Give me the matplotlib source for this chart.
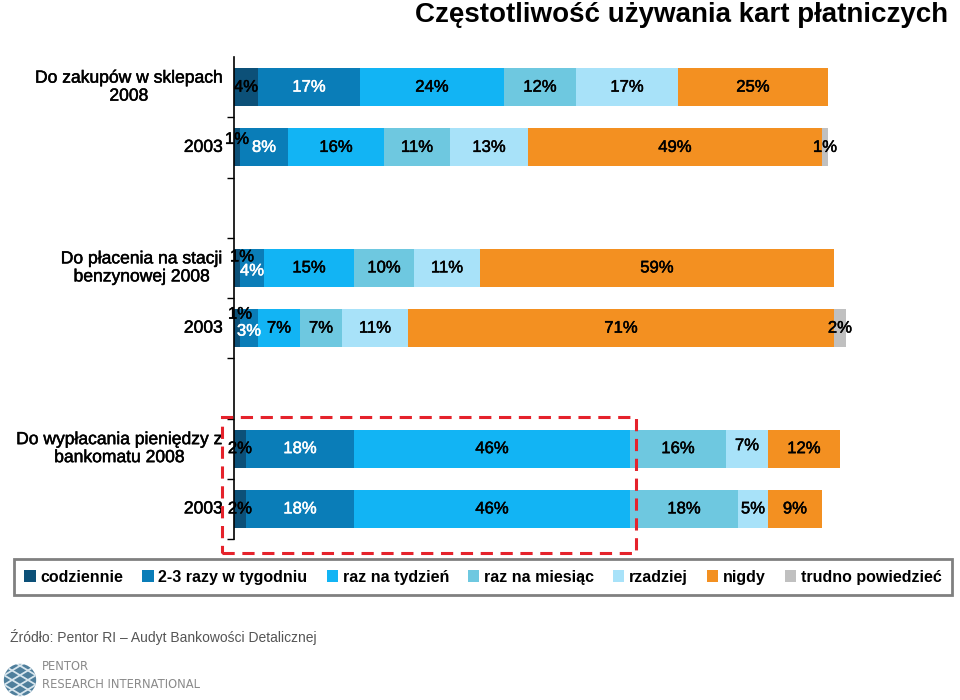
import numpy as np
import matplotlib.pyplot as plt
import matplotlib.patheffects as pe
from matplotlib.patches import Patch, Rectangle, Circle

plt.rcParams['font.family'] = ['Liberation Sans', 'DejaVu Sans']

# dane
kategorie = ["codziennie", "2-3 razy w tygodniu", "raz na tydzień", "raz na miesiąc",
             "rzadziej", "nigdy", "trudno powiedzieć"]
kolory = ["#0C5078", "#0A7DB8", "#12B4F4", "#6EC8E0", "#A8E2F9", "#F39021", "#C0C0C0"]

wiersze = ["Do zakupów w sklepach\n2008", "2003",
           "Do płacenia na stacji\nbenzynowej 2008", "2003",
           "Do wypłacania pieniędzy z\nbankomatu 2008", "2003"]
pozycje = [0, 1, 3, 4, 6, 7]

codziennie = [4, 1, 1, 1, 2, 2]
razy_2_3 = [17, 8, 4, 3, 18, 18]
tydzien = [24, 16, 15, 7, 46, 46]
miesiac = [12, 11, 10, 7, 16, 18]
rzadziej = [17, 13, 11, 11, 7, 5]
nigdy = [25, 49, 59, 71, 12, 9]
trudno = [0, 1, 0, 2, 0, 0]

serie = [codziennie, razy_2_3, tydzien, miesiac, rzadziej, nigdy, trudno]

# przesuniecia etykiet malych segmentow (piksele): (wiersz, seria) -> (dx, dy)
przesuniecia = {(1, 0): (0, 8), (2, 0): (5, 11), (2, 1): (0, -3),
                (3, 0): (3, 14), (3, 1): (0, -3), (4, 4): (0, 3)}

def grubo(kolor):
    return [pe.withStroke(linewidth=0.35, foreground=kolor)]

fig = plt.figure(figsize=(9.6, 7), dpi=100)
W, H = 960, 700
ax = fig.add_axes([234 / W, 1 - 539 / H, 630 / W, (539 - 57) / H])

lewy = np.zeros(len(pozycje))
for j, (nazwa, wart, kol) in enumerate(zip(kategorie, serie, kolory)):
    wart = np.array(wart, dtype=float)
    ax.barh(pozycje, wart, left=lewy, height=0.63, color=kol, label=nazwa)
    for i, v in enumerate(wart):
        if v <= 0:
            continue
        dx, dy = przesuniecia.get((i, j), (0, 0))
        kol_txt = 'white' if j == 1 else 'black'
        ax.annotate(f"{int(v)}%", (lewy[i] + v / 2, pozycje[i]),
                    xytext=(dx, dy), textcoords='offset pixels',
                    ha='center', va='center', fontsize=12,
                    color=kol_txt, path_effects=grubo(kol_txt))
    lewy += wart

ax.set_xlim(0, 105)
ax.set_ylim(7.5, -0.5)
ax.set_xticks([])
ax.set_yticks(np.arange(0.5, 8, 1))
ax.set_yticklabels([])
ax.tick_params(axis='y', direction='out', length=5, width=1)
for s in ['top', 'right', 'bottom']:
    ax.spines[s].set_visible(False)
ax.spines['left'].set_linewidth(1.2)

for txt, p in zip(wiersze, pozycje):
    ax.text(-11.5 / 6, p, txt, ha='right', va='center', multialignment='center',
            fontsize=12.6, linespacing=1.25, path_effects=grubo('black'))

fig.text(948 / W, 1 - 22 / H, "Częstotliwość używania kart płatniczych",
         ha='right', va='baseline', fontsize=20, fontweight='bold')

# czerwona ramka
fig.patches.append(Rectangle((222 / W, 1 - 553 / H), (636 - 222) / W, (553 - 417) / H,
                             transform=fig.transFigure, fill=False,
                             edgecolor='#E5222B', linewidth=2.2,
                             linestyle=(0, (4, 2.5)), zorder=5))

uchwyty = [Patch(facecolor=k, edgecolor='none') for k in kolory]
leg = fig.legend(uchwyty, kategorie, ncol=7, loc='lower left',
                 bbox_to_anchor=(14 / W, 1 - 595 / H, 938 / W, 35 / H), mode='expand',
                 frameon=True, fancybox=False, handlelength=0.7, handleheight=0.7,
                 handletextpad=0.3, columnspacing=1.0, borderaxespad=0, borderpad=0.65,
                 prop={'weight': 'bold', 'size': 11.5})
leg.get_frame().set_edgecolor('#606060')
leg.get_frame().set_linewidth(2)

fig.text(10 / W, 1 - 637 / H, "Źródło: Pentor RI – Audyt Bankowości Detalicznej",
         ha='left', va='center', fontsize=10, color='#555555')

# logo
lax = fig.add_axes([3 / W, 1 - 697 / H, 34 / W, 34 / H])
lax.set_xlim(-1, 1)
lax.set_ylim(-1, 1)
lax.axis('off')
kolo = Circle((0, 0), 0.95, facecolor='#4F7F9C', edgecolor='none')
lax.add_patch(kolo)
for t in np.linspace(-1.4, 1.4, 6):
    for l in (lax.plot([-1, 1], [t - 0.6, t + 0.6], color='#D8E6EE', lw=1.3),
              lax.plot([-1, 1], [t + 0.6, t - 0.6], color='#D8E6EE', lw=1.3)):
        l[0].set_clip_path(kolo)
fig.text(42 / W, 1 - 667 / H, "PENTOR", fontsize=8.3, color='#8A8A8A', va='center',
         family='DejaVu Sans')
fig.text(42 / W, 1 - 684 / H, "RESEARCH INTERNATIONAL", fontsize=8.3, color='#8A8A8A',
         va='center', family='DejaVu Sans')

fig.savefig('out.png', dpi=100)
